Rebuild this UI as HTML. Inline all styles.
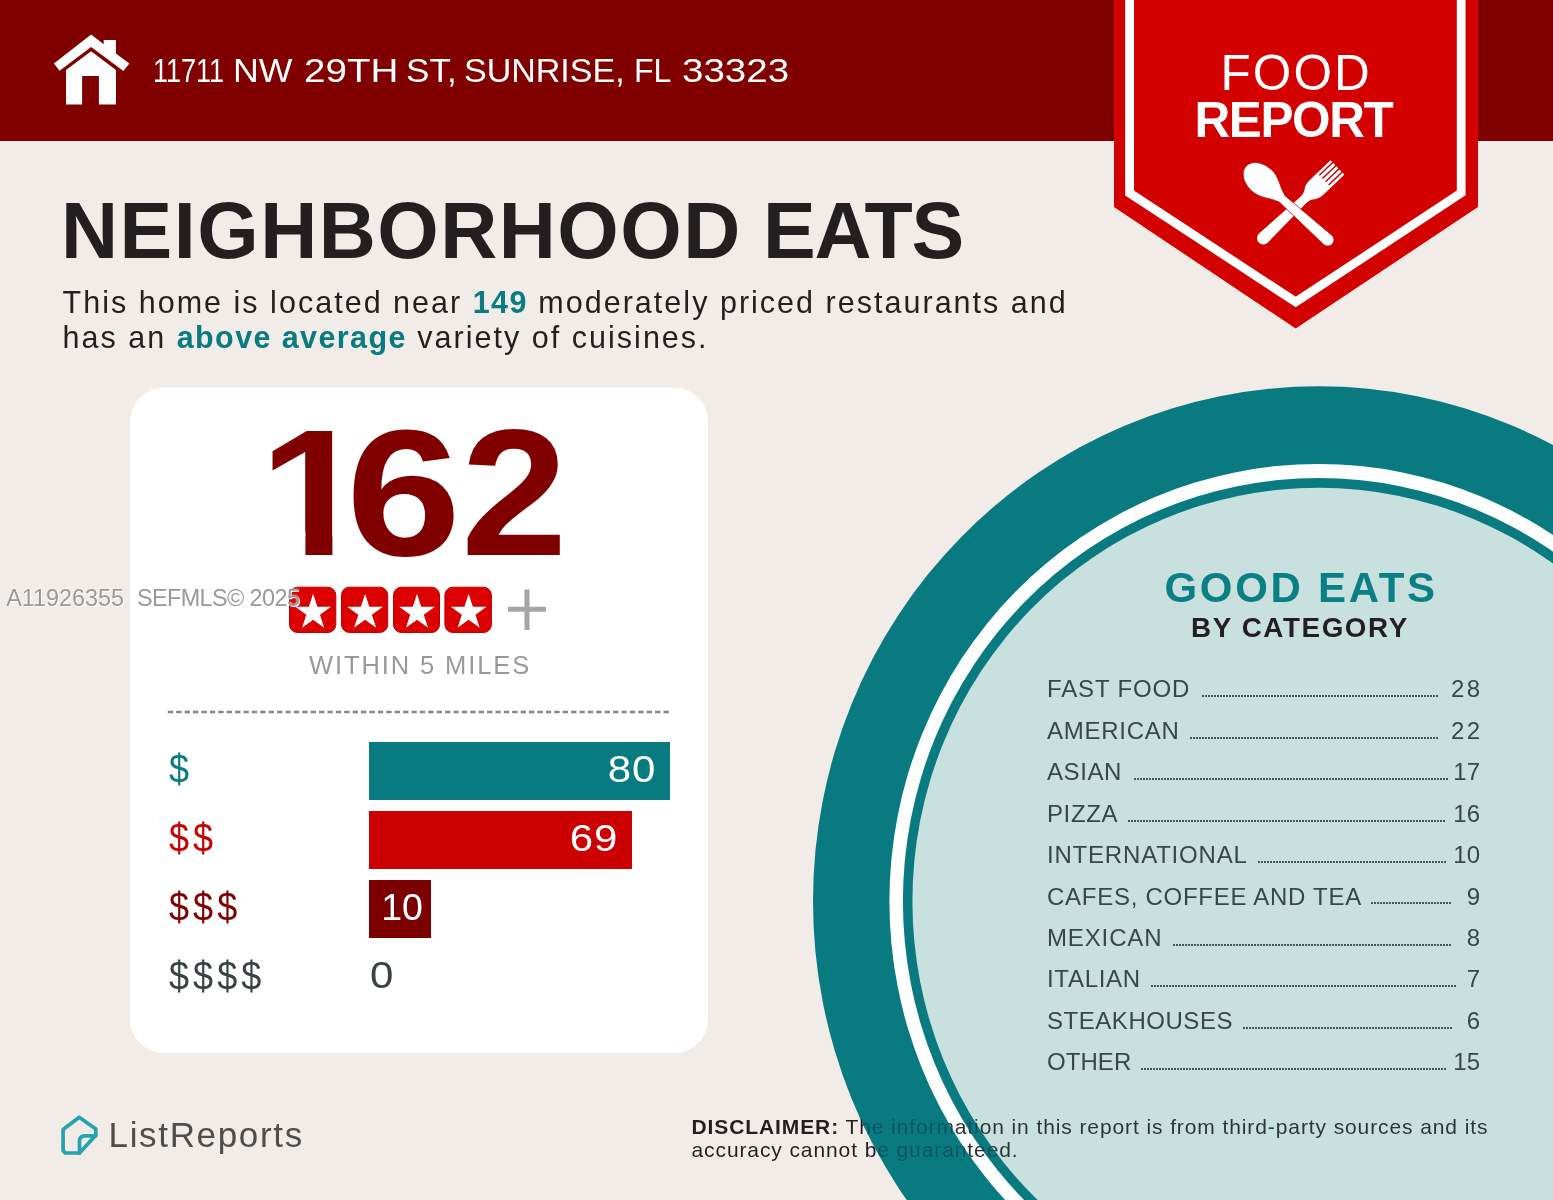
<!DOCTYPE html>
<html lang="en">
<head>
<meta charset="utf-8">
<title>Food Report</title>
<style>
*{margin:0;padding:0;box-sizing:border-box}
html,body{width:1553px;height:1200px;overflow:hidden;background:#f1ece8}
body{font-family:"Liberation Sans",sans-serif;position:relative;color:#231f20}
.abs{position:absolute;white-space:nowrap;line-height:1}
#page{position:absolute;left:0;top:0;width:1553px;height:1200px;overflow:hidden;background:#f1ece8}
#hdr{position:absolute;left:0;top:0;width:1553px;height:141px;background:#800000}
#art{position:absolute;left:0;top:0}
#addr{left:0;top:53px;font-size:34px;color:#fff;width:900px;height:34px}
#addr span{position:absolute;top:0;transform-origin:0 0}
#title{left:61px;top:191px;font-size:79px;font-weight:bold;color:#231f20;letter-spacing:.8px}
#sub{left:62.5px;top:285.3px;font-size:30.5px;line-height:34.6px;color:#231f20;letter-spacing:2.02px}
#sub b{color:#0a7b80;letter-spacing:1.4px}
#food{left:1220.5px;top:48.3px;font-size:49.5px;color:#fff;letter-spacing:2.1px}
#report{left:1194.5px;top:95.3px;font-size:49.5px;font-weight:bold;color:#fff;letter-spacing:-1.4px}
#big{position:absolute;left:0;top:402.6px;font-size:180px;font-weight:bold;color:#800000}
#big span{top:0;transform-origin:0 0}
#within{left:309px;top:652.5px;font-size:25.5px;color:#999;letter-spacing:1.9px}
.dl{left:168.5px;font-size:40px;letter-spacing:4.5px;transform:scaleX(.9);transform-origin:0 0}
.bar{position:absolute;left:369px;height:58.5px}
.bv{font-size:37.5px;letter-spacing:.6px;color:#fff;transform:scaleX(1.12);transform-origin:100% 0}
#ge{left:1164.5px;top:566.5px;font-size:42px;font-weight:bold;color:#0a7f84;letter-spacing:2.7px}
#bc{left:1191px;top:614px;font-size:27.8px;font-weight:bold;color:#231f20;letter-spacing:1.6px}
.lb{left:1047px;font-size:24px;line-height:30px;color:#37474a}
.nm{right:73px;font-size:24px;line-height:30px;color:#37474a;letter-spacing:1.5px;margin-right:-1.5px}
.dots{position:absolute;height:2px;background:repeating-linear-gradient(90deg,#41575a 0 2px,transparent 2px 3px)}
#lr{left:108.5px;top:1117px;font-size:35px;color:#4d4d4d;letter-spacing:1.67px}
#disc{left:691.5px;top:1115px;font-size:21px;line-height:23px;letter-spacing:.9px;white-space:nowrap;position:absolute;color:transparent;-webkit-background-clip:text;background-clip:text;background-image:radial-gradient(505.6px 515px at 627.1px -213.7px,#2a3335 0 80.34%,#0a4f58 80.34% 82.22%,#2b2b2b 82.22% 84.89%,#0a5560 84.89% 100%,#231f20 100%)}
#wm{left:6.2px;top:587.2px;font-size:23.4px;color:#999;text-shadow:0 0 2px #fff,1px 1px 0 #fff}
</style>
</head>
<body>
<div id="page">
<div id="hdr"></div>
<svg id="art" width="1553" height="1200" viewBox="0 0 1553 1200">
  <!-- plate -->
  <ellipse cx="1318.6" cy="901.3" rx="505.6" ry="515" fill="#097b80"/>
  <ellipse cx="1318.6" cy="901.3" rx="429.2" ry="437.3" fill="#fdffff"/>
  <ellipse cx="1318.6" cy="901.3" rx="415.7" ry="423.3" fill="#097b80"/>
  <ellipse cx="1318.6" cy="901.3" rx="406.2" ry="413.6" fill="#c8e0de"/>
  <!-- banner -->
  <polygon points="1114,0 1478,0 1478,207 1295.7,328.5 1114,207" fill="#d30000"/>
  <polyline points="1129.6,-10 1129.6,193 1295.7,302 1461.2,193 1461.2,-10" fill="none" stroke="#fff" stroke-width="8.8" stroke-linejoin="miter"/>
  <rect x="130" y="387.6" width="578" height="665.4" rx="34" fill="#fff"/>
  <!-- house icon -->
  <path fill="#fff" d="M91.1 34.6 L53.9 63.4 L59.6 70.8 L91.1 47.1 L123.4 70.9 L129.4 63.6 L115.9 53.4 V40 H103.7 V44.2 Z"/>
  <path fill="#fff" d="M91.1 51.3 L66 70 V104.5 H82.1 V76 H98.9 V104.5 H116 V70 Z"/>
  <!-- fork -->
  <g transform="translate(1337.4 167.4) rotate(46.3)">
    <path fill="#fff" d="M-10 0.8 Q-10 0 -9.2 0 H9.2 Q10 0 10 0.8 V29 C10 39 4.4 38 4.2 47 L6.3 102.4 A6.3 6.3 0 0 1 -6.3 102.4 L-4.2 47 C-4.4 38 -10 39 -10 29 Z"/>
    <rect x="-7.45" y="-1" width="1.4" height="19.5" fill="#c00000"/>
    <rect x="-2.95" y="-1" width="1.4" height="19.5" fill="#c00000"/>
    <rect x="1.55" y="-1" width="1.4" height="19.5" fill="#c00000"/>
    <rect x="6.05" y="-1" width="1.4" height="19.5" fill="#c00000"/>
  </g>
  <!-- spoon -->
  <g transform="translate(1246 166.3) rotate(-48)">
    <path fill="#fff" stroke="#b80000" stroke-width="0.7" d="M0 0 C8 0 14.5 9 14.5 21 C14.5 32 7.5 38 4.3 49 L6.2 110 A6.2 6.2 0 0 1 -6.2 110 L-4.3 49 C-7.5 38 -14.5 32 -14.5 21 C-14.5 9 -8 0 0 0 Z"/>
  </g>
  <!-- stars -->
  <rect x="289.5" y="587.2" width="46.3" height="45.3" rx="8" fill="#dc0000" stroke="#c00000" stroke-width="1"/><polygon points="313.1,593.8 317.4,606.8 331.0,606.8 320.0,614.8 324.2,627.8 313.1,619.8 302.1,627.8 306.3,614.8 295.3,606.8 308.9,606.8" fill="#fff"/>
  <rect x="341.5" y="587.2" width="46.2" height="45.3" rx="8" fill="#dc0000" stroke="#c00000" stroke-width="1"/><polygon points="365.1,593.8 369.3,606.8 383.0,606.8 371.9,614.8 376.2,627.8 365.1,619.8 354.0,627.8 358.3,614.8 347.2,606.8 360.9,606.8" fill="#fff"/>
  <rect x="393.5" y="587.2" width="46.0" height="45.3" rx="8" fill="#dc0000" stroke="#c00000" stroke-width="1"/><polygon points="417.0,593.8 421.2,606.8 434.9,606.8 423.8,614.8 428.1,627.8 417.0,619.8 405.9,627.8 410.2,614.8 399.1,606.8 412.8,606.8" fill="#fff"/>
  <rect x="444.9" y="587.2" width="46.5" height="45.3" rx="8" fill="#dc0000" stroke="#c00000" stroke-width="1"/><polygon points="468.6,593.8 472.9,606.8 486.5,606.8 475.5,614.8 479.7,627.8 468.6,619.8 457.6,627.8 461.8,614.8 450.8,606.8 464.4,606.8" fill="#fff"/>
  <path d="M508 609.3 H546 M527 589.4 V630" stroke="#a6a6a6" stroke-width="5" fill="none"/>
  <line x1="167.8" y1="712" x2="670" y2="712" stroke="#858585" stroke-width="2.3" stroke-dasharray="5.4 3"/>
  <!-- listreports logo -->
  <g fill="none" stroke="#27a3ad" stroke-width="3.7" stroke-linejoin="round" stroke-linecap="round">
    <path d="M79.25 1117.25 L63.1 1129.5 V1150.5 L65.2 1153 H79.5 L95.8 1135.3 V1129 Z"/>
    <path d="M79.5 1153 V1141 Q79.5 1136 84.5 1135.8 H95.8"/>
  </g>
</svg>

<div class="abs" id="addr"><span style="left:153.41px;transform:scaleX(0.795)">11711</span> <span style="left:233.15px;transform:scaleX(1.051)">NW</span> <span style="left:303.7px;transform:scaleX(1.135)">29TH</span> <span style="left:405.54px;transform:scaleX(1.032)">ST,</span> <span style="left:464.0px;transform:scaleX(1.0)">SUNRISE,</span> <span style="left:633.77px;transform:scaleX(0.944)">FL</span> <span style="left:682.27px;transform:scaleX(1.133)">33323</span></div>
<div class="abs" id="title"><span style="letter-spacing:1.5px">NEIGHBORHOOD</span> <span style="position:absolute;left:701.9px;top:0;letter-spacing:-1.15px">EATS</span></div>
<div class="abs" id="sub">This home is located near <b>149</b> moderately priced restaurants and<br>has an <b>above average</b> variety of cuisines.</div>

<div class="abs" id="food">FOOD</div>
<div class="abs" id="report">REPORT</div>
<div id="big"><span class="abs" style="left:258.8px;transform:scaleX(1.1);clip-path:polygon(0 0,66.9px 0,66.9px 100%,42.2px 100%,42.2px 130px,0 130px)">1</span><span class="abs" style="left:345.5px;transform:scaleX(1.149)">6</span><span class="abs" style="left:461px;transform:scaleX(1.063)">2</span></div>
<div class="abs" id="within">WITHIN 5 MILES</div>

<div class="abs dl" style="top:749px;color:#0a7b80">$</div>
<div class="abs dl" style="top:817.5px;color:#c80000">$$</div>
<div class="abs dl" style="top:886.5px;color:#800000">$$$</div>
<div class="abs dl" style="top:955.5px;color:#3b4243">$$$$</div>
<div class="bar" style="top:741.8px;width:301px;background:#087b80"></div>
<div class="bar" style="top:810.8px;width:263.3px;background:#cc0000"></div>
<div class="bar" style="top:879.5px;width:61.8px;background:#7d0000"></div>
<div class="abs bv" style="right:896.6px;top:751.3px">80</div>
<div class="abs bv" style="right:934.6px;top:820.3px">69</div>
<div class="abs bv" style="left:381.2px;top:888.5px;transform:none;letter-spacing:0">10</div>
<div class="abs bv" style="left:370px;top:957px;color:#3b4243;transform-origin:0 0">0</div>

<div class="abs" id="ge">GOOD EATS</div>
<div class="abs" id="bc">BY CATEGORY</div>
<div class="abs lb" style="top:674.4px;letter-spacing:0.85px">FAST FOOD</div><div class="dots" style="top:695px;left:1202px;width:236px"></div><div class="abs nm" style="top:674.4px;letter-spacing:2.2px;margin-right:-2.2px">28</div>
<div class="abs lb" style="top:715.8px;letter-spacing:0.73px">AMERICAN</div><div class="dots" style="top:737px;left:1190px;width:248px"></div><div class="abs nm" style="top:715.8px;letter-spacing:2.2px;margin-right:-2.2px">22</div>
<div class="abs lb" style="top:757.2px;letter-spacing:0.57px">ASIAN</div><div class="dots" style="top:778px;left:1134px;width:314px"></div><div class="abs nm" style="top:757.2px;letter-spacing:0;margin-right:0">17</div>
<div class="abs lb" style="top:798.6px;letter-spacing:0.60px">PIZZA</div><div class="dots" style="top:820px;left:1128px;width:317px"></div><div class="abs nm" style="top:798.6px;letter-spacing:0;margin-right:0">16</div>
<div class="abs lb" style="top:840.0px;letter-spacing:0.80px">INTERNATIONAL</div><div class="dots" style="top:861px;left:1258px;width:188px"></div><div class="abs nm" style="top:840.0px;letter-spacing:0;margin-right:0">10</div>
<div class="abs lb" style="top:881.5px;letter-spacing:0.73px">CAFES, COFFEE AND TEA</div><div class="dots" style="top:902px;left:1371px;width:80px"></div><div class="abs nm" style="top:881.5px">9</div>
<div class="abs lb" style="top:922.9px;letter-spacing:0.87px">MEXICAN</div><div class="dots" style="top:944px;left:1173px;width:278px"></div><div class="abs nm" style="top:922.9px">8</div>
<div class="abs lb" style="top:964.3px;letter-spacing:0.70px">ITALIAN</div><div class="dots" style="top:985px;left:1151px;width:305px"></div><div class="abs nm" style="top:964.3px">7</div>
<div class="abs lb" style="top:1005.7px;letter-spacing:0.54px">STEAKHOUSES</div><div class="dots" style="top:1027px;left:1243px;width:209px"></div><div class="abs nm" style="top:1005.7px">6</div>
<div class="abs lb" style="top:1047.1px;letter-spacing:0.07px">OTHER</div><div class="dots" style="top:1068px;left:1141px;width:305px"></div><div class="abs nm" style="top:1047.1px;letter-spacing:0;margin-right:0">15</div>

<div class="abs" id="lr">ListReports</div>
<div id="disc"><b>DISCLAIMER:</b> The information in this report is from third-party sources and its<br>accuracy cannot be guaranteed.</div>
<div class="abs" id="wm">A11926355&nbsp; <span style="letter-spacing:-.58px;margin-left:-.2px">SEFMLS© 2025</span></div>
</div>
</body>
</html>
